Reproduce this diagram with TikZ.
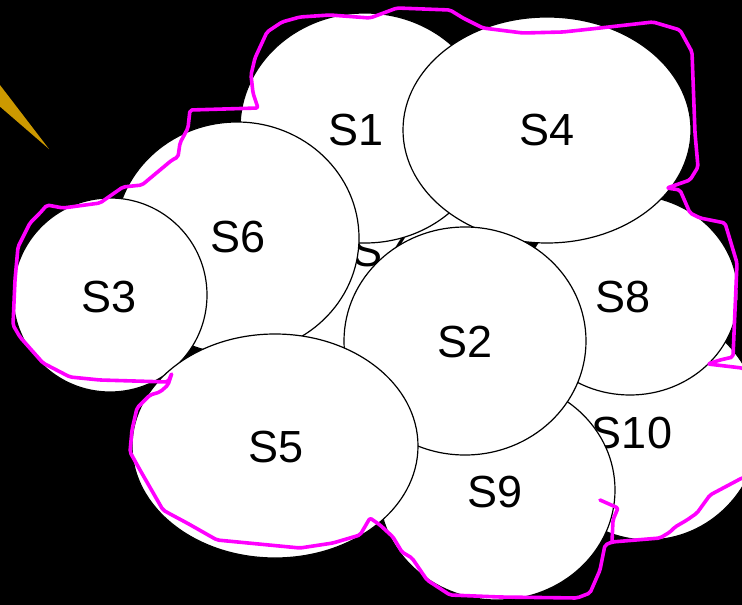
\documentclass[tikz,border=0pt]{standalone}
\usepackage{fontspec}
\setmainfont{Liberation Sans}
\usetikzlibrary{shapes.geometric}
\definecolor{spikegold}{RGB}{204,153,0}
\definecolor{penmagenta}{RGB}{255,0,255}
\begin{document}
\begin{tikzpicture}[x=1pt,y=-1pt,
    blob/.style={ellipse,draw=black,fill=white,line width=1.2pt,inner sep=0pt,outer sep=0pt},
    tag/.style={font=\fontsize{45}{54}\selectfont,inner sep=0pt},
    pen/.style={draw=penmagenta,line width=3.6pt,line join=round,line cap=round,rounded corners=2pt}]
  \fill[black] (0,0) rectangle (742,605);
  \useasboundingbox (0,0) rectangle (742,605);
  \clip (0,0) rectangle (742,605);
  \fill[spikegold] (-10,72) -- (49,149) -- (-10,98) -- cycle;
  \foreach \n/\cx/\cy/\rx/\ry/\lx/\ly in {
      10/648/425/112/115/632/433,
      9/497/490/118/110/495/492,
      8/630/295/108/100/623/297,
      7/400/300/120/100/380/251,
      1/365/128/125/115/356/130,
      4/547/130/144/113/547/130,
      6/237/238/122/116/238/237,
      3/110/295/97/97/109/297,
      2/465/341/121/114/465/342,
      5/275/446/143/112/276/447} {
    \node[blob,minimum width={2*\rx pt},minimum height={2*\ry pt}] (s\n) at (\cx,\cy) {};
    \node[tag] (t\n) at (\lx,\ly) {S\n};
  }
  \draw[pen] (13,325) -- (15,280) -- (18,247) -- (30,223) -- (40,213) -- (47,205)
    -- (63,208) -- (100,203) -- (123,187) -- (142,185) -- (172,160) -- (178,157)
    -- (180,143) -- (188,128) -- (190,110) -- (258,108) -- (253,93) -- (251,75)
    -- (255,58) -- (267,32) -- (282,22) -- (300,17) -- (330,15) -- (370,18)
    -- (397,8) -- (450,10) -- (463,18) -- (483,28) -- (523,33) -- (563,32)
    -- (600,28) -- (653,22) -- (680,30) -- (692,52) -- (695,133) -- (698,167)
    -- (690,180) -- (667,188) -- (680,190) -- (690,213) -- (700,218) -- (725,223)
    -- (737,263) -- (733,357) -- (720,360) -- (708,364) -- (742,368) -- (752,372)
    -- (752,475) -- (742,478) -- (710,495) -- (697,513) -- (687,520) -- (675,527)
    -- (670,532) -- (660,538) -- (612,542) -- (605,545) -- (600,570) -- (590,593)
    -- (577,598) -- (500,597) -- (450,595) -- (427,580) -- (412,558) -- (402,552)
    -- (393,537) -- (380,525) -- (370,518) -- (363,530) -- (360,535) -- (333,543)
    -- (300,548) -- (217,540) -- (187,523) -- (172,515) -- (163,510) -- (140,470)
    -- (130,452) -- (132,430) -- (137,408) -- (150,395) -- (160,392) -- (168,385)
    -- (172,373) -- (168,382) -- (100,380) -- (70,377) -- (43,363) -- (20,337) -- cycle;
  \draw[pen] (612,542) -- (613,520) -- (618,508) -- (600,500);
\end{tikzpicture}
\end{document}
